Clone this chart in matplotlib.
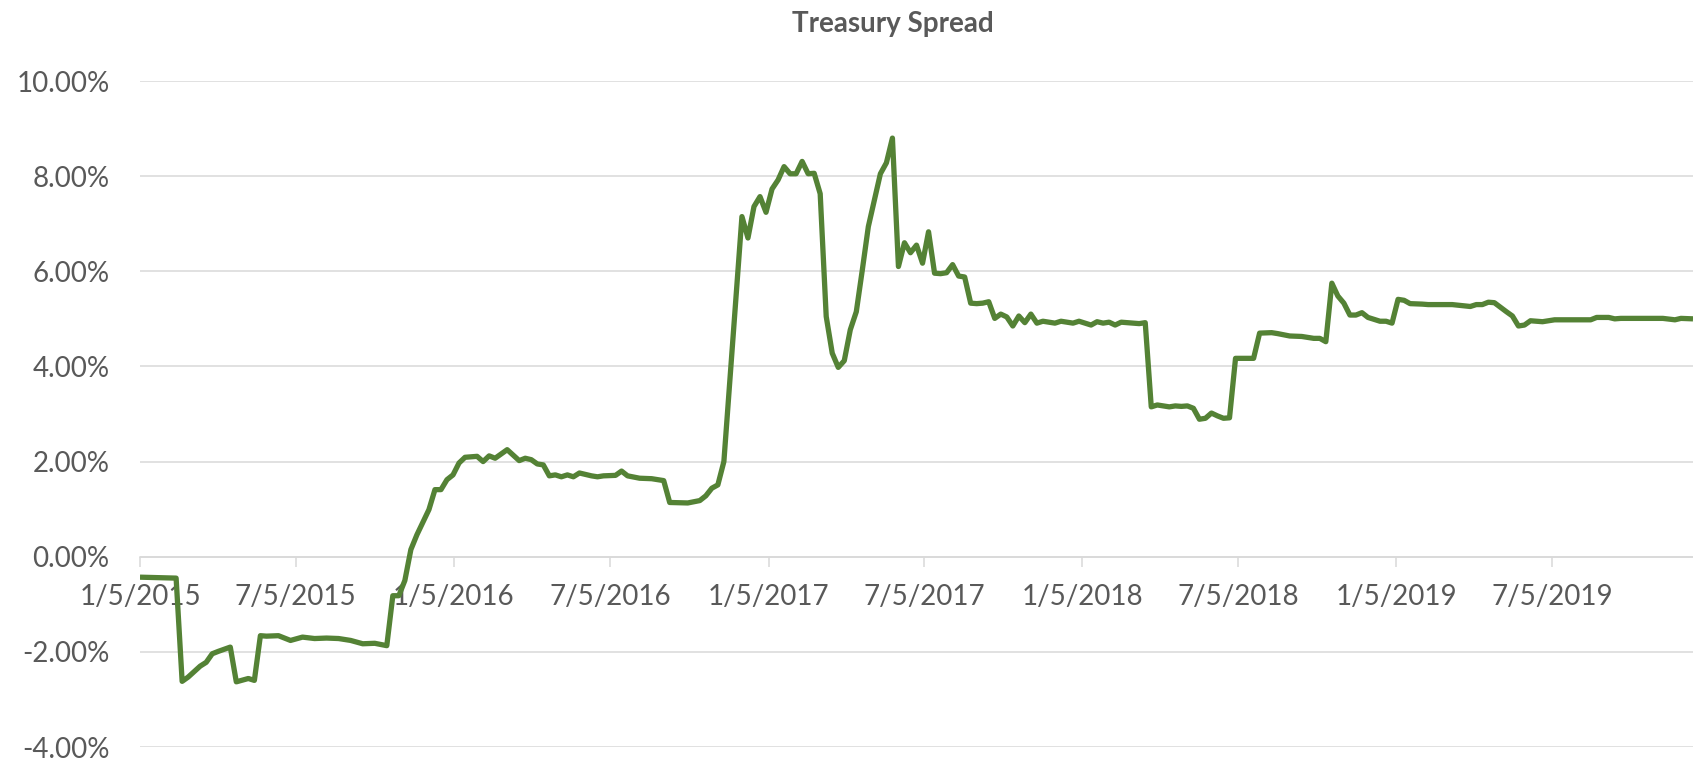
import matplotlib
matplotlib.use("Agg")
import matplotlib.pyplot as plt
import matplotlib.ticker as mticker
import pandas as pd

# weekly treasury spread, in percent
dates = [
    "2015-01-05", "2015-01-26", "2015-02-16", "2015-02-23", "2015-03-02", "2015-03-16",
    "2015-03-23", "2015-03-30", "2015-04-06", "2015-04-20", "2015-04-27", "2015-05-11",
    "2015-05-18", "2015-05-25", "2015-06-01", "2015-06-15", "2015-06-29", "2015-07-13",
    "2015-07-27", "2015-08-10", "2015-08-24", "2015-09-07", "2015-09-21", "2015-10-05",
    "2015-10-19", "2015-10-26", "2015-11-02", "2015-11-09", "2015-11-16", "2015-11-23",
    "2015-12-07", "2015-12-14", "2015-12-21", "2015-12-28",
    "2016-01-04", "2016-01-11", "2016-01-18", "2016-02-01", "2016-02-08", "2016-02-15",
    "2016-02-22", "2016-03-07", "2016-03-21", "2016-03-28", "2016-04-04", "2016-04-11",
    "2016-04-18", "2016-04-25", "2016-05-02", "2016-05-09", "2016-05-16", "2016-05-23",
    "2016-05-30", "2016-06-13", "2016-06-20", "2016-06-27", "2016-07-11", "2016-07-18",
    "2016-07-25", "2016-08-08", "2016-08-22", "2016-09-05", "2016-09-12", "2016-10-03",
    "2016-10-17", "2016-10-24", "2016-10-31", "2016-11-07", "2016-11-14", "2016-12-05",
    "2016-12-12", "2016-12-19", "2016-12-26",
    "2017-01-02", "2017-01-09", "2017-01-16", "2017-01-23", "2017-01-30", "2017-02-06",
    "2017-02-13", "2017-02-20", "2017-02-27", "2017-03-06", "2017-03-13", "2017-03-20",
    "2017-03-27", "2017-04-03", "2017-04-10", "2017-04-17", "2017-04-24", "2017-05-01",
    "2017-05-08", "2017-05-15", "2017-05-22", "2017-05-29", "2017-06-05", "2017-06-12",
    "2017-06-19", "2017-06-26", "2017-07-03", "2017-07-10", "2017-07-17", "2017-07-24",
    "2017-07-31", "2017-08-07", "2017-08-14", "2017-08-21", "2017-08-28", "2017-09-04",
    "2017-09-11", "2017-09-18", "2017-09-25", "2017-10-02", "2017-10-09", "2017-10-16",
    "2017-10-23", "2017-10-30", "2017-11-06", "2017-11-13", "2017-11-20", "2017-11-27",
    "2017-12-04", "2017-12-11", "2017-12-25",
    "2018-01-01", "2018-01-15", "2018-01-22", "2018-01-29", "2018-02-05", "2018-02-12",
    "2018-02-19", "2018-03-05", "2018-03-12", "2018-03-19", "2018-03-26", "2018-04-02",
    "2018-04-16", "2018-04-23", "2018-04-30", "2018-05-07", "2018-05-14", "2018-05-21",
    "2018-05-28", "2018-06-04", "2018-06-11", "2018-06-18", "2018-06-25", "2018-07-02",
    "2018-07-09", "2018-07-23", "2018-07-30", "2018-08-13", "2018-08-20", "2018-09-03",
    "2018-09-17", "2018-10-01", "2018-10-08", "2018-10-15", "2018-10-22", "2018-10-29",
    "2018-11-05", "2018-11-12", "2018-11-19", "2018-11-26", "2018-12-03", "2018-12-17",
    "2018-12-24", "2018-12-31",
    "2019-01-07", "2019-01-14", "2019-01-21", "2019-02-04", "2019-02-11", "2019-03-11",
    "2019-04-01", "2019-04-08", "2019-04-15", "2019-04-22", "2019-04-29", "2019-05-13",
    "2019-05-20", "2019-05-27", "2019-06-03", "2019-06-10", "2019-06-24", "2019-07-08",
    "2019-07-29", "2019-08-19", "2019-08-26", "2019-09-09", "2019-09-16", "2019-09-23",
    "2019-10-28", "2019-11-11", "2019-11-25", "2019-12-02", "2019-12-16",
]
spread = [
    -0.43, -0.44, -0.45, -2.62, -2.53, -2.30,
    -2.22, -2.04, -1.99, -1.90, -2.63, -2.56,
    -2.60, -1.66, -1.67, -1.66, -1.76, -1.69,
    -1.72, -1.71, -1.72, -1.76, -1.83, -1.82,
    -1.87, -0.82, -0.82, -0.50, 0.15, 0.46,
    0.99, 1.41, 1.41, 1.62,
    1.72, 1.97, 2.09, 2.11, 2.00, 2.12,
    2.07, 2.25, 2.02, 2.07, 2.04, 1.95,
    1.93, 1.70, 1.72, 1.68, 1.72, 1.68,
    1.76, 1.70, 1.68, 1.70, 1.71, 1.80,
    1.70, 1.65, 1.64, 1.60, 1.14, 1.13,
    1.18, 1.28, 1.44, 1.51, 2.00, 7.15,
    6.70, 7.36, 7.57,
    7.24, 7.73, 7.92, 8.20, 8.05, 8.05,
    8.31, 8.05, 8.06, 7.63, 5.05, 4.28,
    3.98, 4.12, 4.77, 5.15, 6.03, 6.94,
    7.50, 8.05, 8.28, 8.80, 6.10, 6.60,
    6.39, 6.55, 6.17, 6.83, 5.96, 5.95,
    5.97, 6.14, 5.90, 5.88, 5.33, 5.32,
    5.33, 5.36, 5.01, 5.10, 5.04, 4.85,
    5.06, 4.92, 5.10, 4.91, 4.95, 4.93,
    4.91, 4.95, 4.91,
    4.95, 4.87, 4.94, 4.91, 4.93, 4.87,
    4.93, 4.91, 4.90, 4.92, 3.15, 3.19,
    3.15, 3.17, 3.16, 3.17, 3.12, 2.89,
    2.91, 3.02, 2.96, 2.91, 2.92, 4.17,
    4.17, 4.17, 4.70, 4.71, 4.69, 4.64,
    4.63, 4.59, 4.59, 4.52, 5.75, 5.48,
    5.33, 5.08, 5.08, 5.13, 5.03, 4.95,
    4.95, 4.91,
    5.41, 5.39, 5.32, 5.31, 5.30, 5.30,
    5.26, 5.30, 5.30, 5.35, 5.34, 5.15,
    5.06, 4.85, 4.87, 4.96, 4.94, 4.98,
    4.98, 4.98, 5.03, 5.03, 5.00, 5.01,
    5.01, 5.01, 4.98, 5.01, 5.00,
]

tick_labels = ["1/5/2015", "7/5/2015", "1/5/2016", "7/5/2016", "1/5/2017",
               "7/5/2017", "1/5/2018", "7/5/2018", "1/5/2019", "7/5/2019"]
y_ticks = [-4, -2, 0, 2, 4, 6, 8, 10]

TEXT = "#595959"
GRID = "#d9d9d9"
GREEN = "#548235"

plt.rcParams["font.family"] = ["Lato", "DejaVu Sans"]

x = pd.to_datetime(dates)
tick_pos = pd.to_datetime(tick_labels, format="%m/%d/%Y")

fig = plt.figure(figsize=(16.93, 7.60), dpi=100)
ax = fig.add_axes([140 / 1693, 13 / 760, 1 - 140 / 1693, 666 / 760])

ax.plot(x, spread, color=GREEN, linewidth=3.8, solid_joinstyle="round",
        solid_capstyle="butt", zorder=3)

ax.set_xlim(x[0], x[-1])
ax.set_ylim(-4, 10)
ax.set_yticks(y_ticks)
ax.yaxis.set_major_formatter(mticker.FuncFormatter(lambda v, _: f"{v:.2f}%"))
ax.grid(axis="y", color=GRID, linewidth=1.1, zorder=0)
ax.set_axisbelow(True)

ax.set_xticks(tick_pos)
ax.set_xticklabels(tick_labels)

for side in ("top", "right", "left"):
    ax.spines[side].set_visible(False)
ax.spines["bottom"].set_position(("data", 0))
ax.spines["bottom"].set_color(GRID)
ax.spines["bottom"].set_linewidth(1.1)

ax.tick_params(axis="x", colors=GRID, length=7, width=1.1, pad=13,
               labelcolor=TEXT, labelsize=20)
ax.tick_params(axis="y", length=0, pad=22, labelcolor=TEXT, labelsize=20)

fig.text(893 / 1693, 1 - 24 / 760, "Treasury Spread", ha="center", va="center",
         fontsize=20, fontweight="bold", color=TEXT)

fig.savefig("out.png", dpi=100)
plt.close(fig)
